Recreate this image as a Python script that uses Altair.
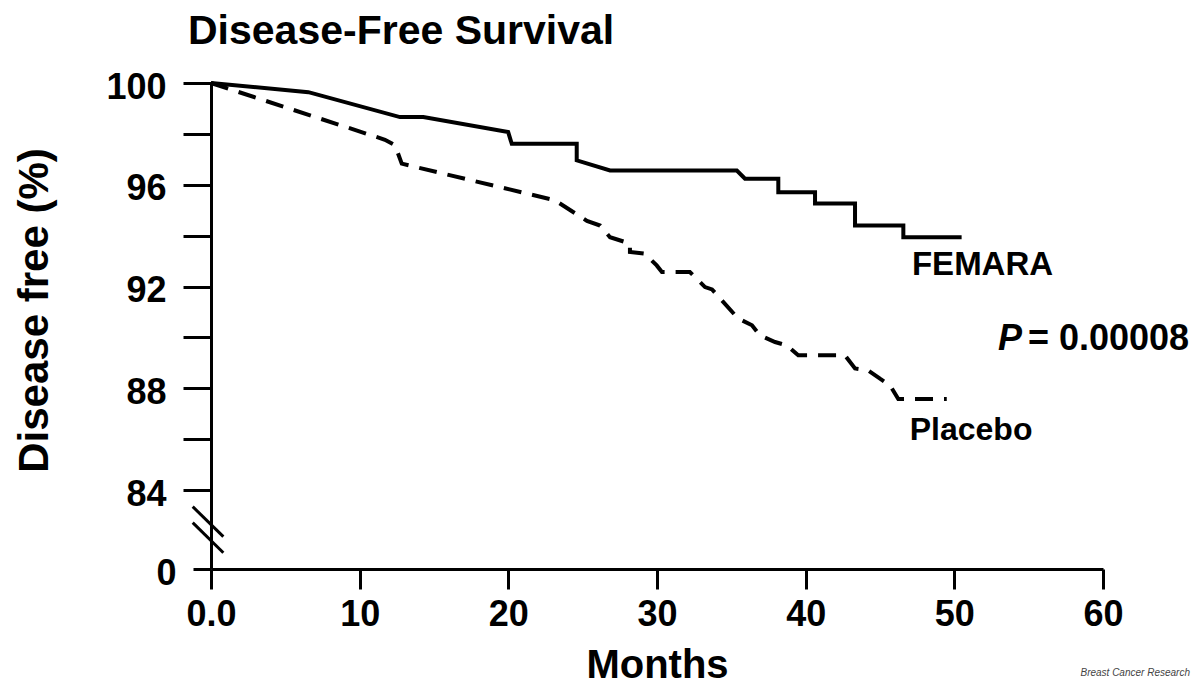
import altair as alt
import pandas as pd

# ---- data ----
femara_month = [0, 6.55, 12.71, 14.28, 19.99, 20.23, 24.6, 24.6, 26.84, 35.37, 35.92,
                38.16, 38.16, 40.63, 40.63, 43.32, 43.32, 46.57, 46.57, 50.49]
femara_pct = [100, 99.64, 98.66, 98.66, 98.07, 97.61, 97.61, 96.96, 96.56, 96.56, 96.24,
              96.24, 95.71, 95.71, 95.26, 95.26, 94.40, 94.40, 93.94, 93.94]

placebo_month = [0, 11.70, 12.38, 12.83, 23.14, 25.29, 26.17, 26.84, 28.18, 28.18, 29.19,
                 29.98, 30.33, 32.21, 33.23, 33.70, 35.45, 36.39, 36.93, 37.94, 38.72,
                 39.50, 42.64, 43.32, 44.19, 45.00, 45.67, 46.23, 49.49]
placebo_pct = [100, 97.77, 97.55, 96.83, 95.39, 94.58, 94.40, 93.94, 93.69, 93.36, 93.29,
               92.83, 92.57, 92.57, 91.98, 91.89, 90.75, 90.48, 90.08, 89.82, 89.69,
               89.30, 89.30, 88.78, 88.71, 88.38, 88.12, 87.58, 87.58]

x_ticks = [0, 10, 20, 30, 40, 50, 60]
y_bottom = 80.9          # position of the "0" label below the axis break
y_ticks = [y_bottom, 84, 86, 88, 90, 92, 94, 96, 98, 100]

series_names = ["FEMARA", "Placebo"]
p_value_text = "= 0.00008"

FONT = "Liberation Sans"

df = pd.concat([
    pd.DataFrame({"month": femara_month, "pct": femara_pct, "series": series_names[0],
                  "order": range(len(femara_month))}),
    pd.DataFrame({"month": placebo_month, "pct": placebo_pct, "series": series_names[1],
                  "order": range(len(placebo_month))}),
])

xscale = alt.Scale(domain=[0, 60], nice=False, zero=False)
yscale = alt.Scale(domain=[y_bottom, 100], nice=False, zero=False)

x_axis = alt.Axis(values=x_ticks, title="Months", grid=False,
                  labelExpr="datum.value == 0 ? '0.0' : datum.label",
                  tickSize=20, labelPadding=8, labelFlush=False, labelOverlap=False,
                  titleX=446, titleY=108, titleBaseline="alphabetic", titleAlign="center",
                  titleFontSize=40)
y_axis = alt.Axis(values=y_ticks, title="Disease free (%)", grid=False,
                  labelExpr="datum.value < 81 ? '0' : (datum.value % 4 == 0 ? datum.label : '')",
                  tickSize={"condition": {"test": "datum.value < 81", "value": 18}, "value": 28},
                  labelPadding=17, labelOffset=4, labelOverlap=False,
                  titleX=-164, titleY=227, titleBaseline="alphabetic", titleAlign="center",
                  titleAngle=-90, titleFontSize=42)

femara = alt.Chart(df).transform_filter(alt.datum.series == "FEMARA").mark_line(
    color="black", strokeWidth=4, strokeJoin="miter"
).encode(
    x=alt.X("month:Q", scale=xscale, axis=x_axis),
    y=alt.Y("pct:Q", scale=yscale, axis=y_axis),
    order="order:Q",
)

placebo = alt.Chart(df).transform_filter(alt.datum.series == "Placebo").mark_line(
    color="black", strokeWidth=4, strokeDash=[18, 11]
).encode(
    x=alt.X("month:Q", scale=xscale),
    y=alt.Y("pct:Q", scale=yscale),
    order="order:Q",
)

# axis break marks (in data units)
brk = pd.DataFrame({"x0": [-1.23, -1.23], "x1": [0.83, 0.83],
                    "y0": [83.35, 82.72], "y1": [82.17, 81.54]})
breaks = alt.Chart(brk).mark_rule(color="black", strokeWidth=3).encode(
    x=alt.X("x0:Q", scale=xscale), x2="x1:Q",
    y=alt.Y("y0:Q", scale=yscale), y2="y1:Q",
)

def label(text, x, y, size, italic=False, align="left", color="black", weight="bold"):
    d = pd.DataFrame({"t": [text], "x": [x], "y": [y]})
    return alt.Chart(d).mark_text(
        font=FONT, fontSize=size, fontWeight=weight,
        fontStyle="italic" if italic else "normal",
        align=align, baseline="alphabetic", color=color,
    ).encode(x=alt.X("x:Q", scale=xscale), y=alt.Y("y:Q", scale=yscale), text="t:N")

texts = [
    label("FEMARA", 47.15, 92.45, 33),
    label("Placebo", 47.0, 85.97, 32),
    label("P", 52.94, 89.51, 36, italic=True),
    label(p_value_text, 54.95, 89.51, 36),
    label("Breast Cancer Research", 65.85, 76.7, 10, italic=True, align="right",
          color="#444444", weight="normal"),
]

chart = alt.layer(femara, placebo, breaks, *texts).properties(
    width=892, height=486,
    title=alt.TitleParams("Disease-Free Survival", anchor="start", frame="group",
                          font=FONT, fontSize=41, fontWeight="bold", color="black",
                          dx=-23, offset=16),
    autosize=alt.AutoSizeParams(type="none"),
    padding={"left": 203, "top": 75, "right": 88, "bottom": 115},
).configure_view(stroke=None).configure_axis(
    domainColor="black", domainWidth=3, tickColor="black", tickWidth=3,
    labelColor="black", labelFont=FONT, labelFontWeight="bold", labelFontSize=36,
    titleColor="black", titleFont=FONT, titleFontWeight="bold",
)

chart.save("out.html", embed_options={"renderer": "svg", "actions": False})
